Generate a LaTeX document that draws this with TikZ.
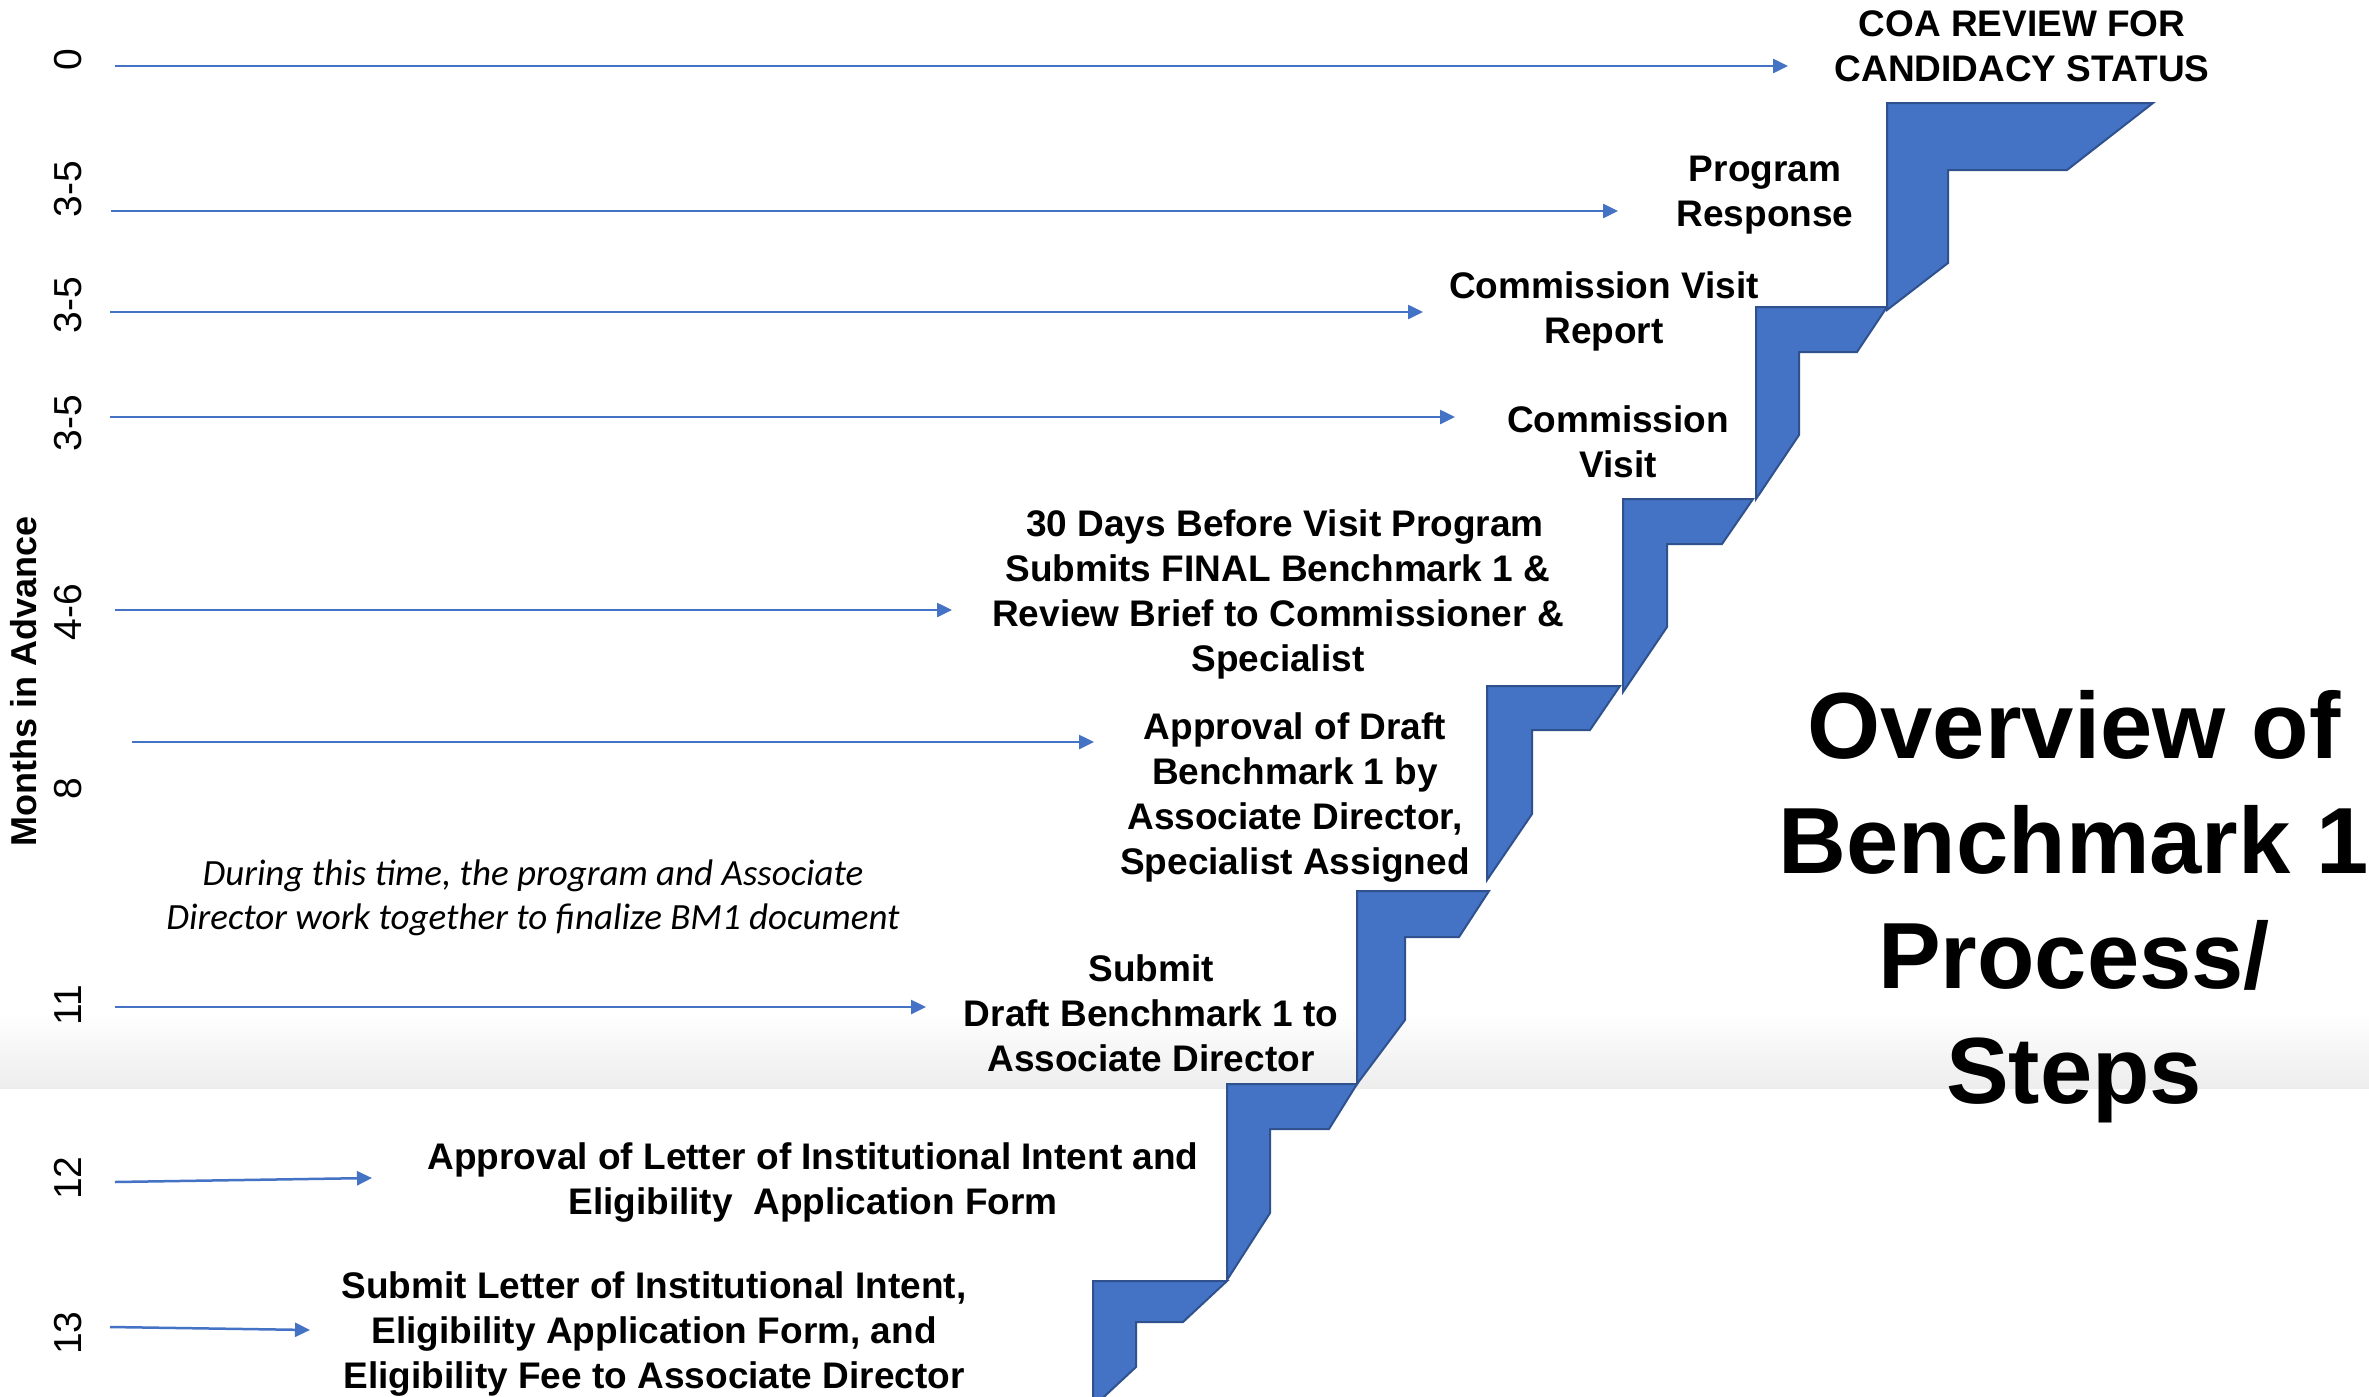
\documentclass[tikz,border=0pt]{standalone}
\usepackage{fontspec}
\setmainfont{Liberation Sans}
\newfontfamily\notefont{Carlito}
\usetikzlibrary{arrows.meta}
\definecolor{stairblue}{HTML}{4472C4}
\definecolor{stairedge}{HTML}{2F528F}
\begin{document}
\begin{tikzpicture}[x=1pt,y=-1pt,
  stair/.style={fill=stairblue,draw=stairedge,line width=2pt,line join=miter},
  arr/.style={draw=stairblue,line width=2.5pt,-{Triangle[length=15pt,width=14pt]}},
  lbl/.style={font=\fontsize{37}{45}\selectfont\bfseries,align=center,inner sep=0pt},
  axis/.style={font=\fontsize{39}{44}\selectfont,rotate=90,inner sep=0pt},
  ]
\useasboundingbox (0,0) rectangle (2369,1397);
\clip (0,0) rectangle (2369,1397);
\fill[white] (0,0) rectangle (2369,1397);
\shade[top color=white,bottom color=black!7] (0,1012) rectangle (2369,1088);

% staircase
\draw[stair] (1093,1281) -- (1227,1281) -- (1183,1322) -- (1136,1322) -- (1136,1367) -- (1093,1407) -- cycle;
\draw[stair] (1227,1084) -- (1357,1084) -- (1329,1129) -- (1270,1129) -- (1270,1213) -- (1227,1280) -- cycle;
\draw[stair] (1357,891) -- (1489,891) -- (1459,937) -- (1405,937) -- (1405,1020) -- (1357,1084) -- cycle;
\draw[stair] (1487,686) -- (1620,686) -- (1590,730) -- (1532,730) -- (1532,814) -- (1487,880) -- cycle;
\draw[stair] (1623,499) -- (1753,499) -- (1722,544) -- (1667,544) -- (1667,627) -- (1623,692) -- cycle;
\draw[stair] (1756,307) -- (1887,307) -- (1857,352) -- (1799,352) -- (1799,435) -- (1756,499) -- cycle;
\draw[stair] (1887,103) -- (2153,103) -- (2067,170) -- (1948,170) -- (1948,263) -- (1887,310) -- cycle;

% axis labels
\node[axis,font=\fontsize{36}{40}\selectfont\bfseries] (months) at (24,681) {Months in Advance};
\node[axis] (m0) at (68,60) {0};
\node[axis] (m1) at (68,189) {3-5};
\node[axis] (m2) at (68,305) {3-5};
\node[axis] (m3) at (68,423) {3-5};
\node[axis] (m4) at (68,612) {4-6};
\node[axis] (m5) at (68,789) {8};
\node[axis] (m6) at (68,1005) {11};
\node[axis] (m7) at (68,1178) {12};
\node[axis] (m8) at (68,1333) {13};

% step labels
\node[lbl] (coa) at (2022,46) {COA REVIEW FOR\\CANDIDACY STATUS};
\node[lbl] (resp) at (1765,195) {Program\\Response};
\node[lbl] (cvr) at (1604,311) {Commission Visit\\Report};
\node[lbl] (cv) at (1618,442) {Commission\\Visit};
\node[lbl] (final) at (1278,594) {\hspace*{14pt}30 Days Before Visit Program\\Submits FINAL Benchmark 1 \&\\Review Brief to Commissioner \&\\Specialist};
\node[lbl] (appr) at (1295,798) {Approval of Draft\\Benchmark 1 by\\Associate Director,\\Specialist Assigned};
\node[lbl] (sub) at (1151,1013) {Submit\\Draft Benchmark 1 to\\Associate Director};
\node[lbl] (loi) at (813,1183) {Approval of Letter of Institutional Intent and\\Eligibility\ \ Application Form};
\node[lbl] (elig) at (654,1334) {Submit Letter of Institutional Intent,\\Eligibility Application Form, and\\Eligibility Fee to Associate Director};
\node[font=\notefont\itshape\fontsize{37}{44}\selectfont,align=center,inner sep=0pt] (note) at (533,898) {During this time, the program and Associate\\Director work together to finalize BM1 document};
\node[font=\fontsize{94}{115}\selectfont\bfseries,align=center,inner sep=0pt] (title) at (2074,907) {Overview of\\Benchmark 1\\Process/\\Steps};

% arrows
\coordinate (a0s) at (115,66);   \coordinate (a0e) at (1788,66);
\coordinate (a1s) at (111,211);  \coordinate (a1e) at (1618,211);
\coordinate (a2s) at (110,312);  \coordinate (a2e) at (1423,312);
\coordinate (a3s) at (110,417);  \coordinate (a3e) at (1455,417);
\coordinate (a4s) at (115,610);  \coordinate (a4e) at (952,610);
\coordinate (a5s) at (132,742);  \coordinate (a5e) at (1094,742);
\coordinate (a6s) at (115,1007); \coordinate (a6e) at (926,1007);
\coordinate (a7s) at (115,1182); \coordinate (a7e) at (372,1178);
\coordinate (a8s) at (110,1327); \coordinate (a8e) at (310,1330);
\foreach \i in {0,...,8} {\draw[arr] (a\i s) -- (a\i e);}
\end{tikzpicture}
\end{document}
